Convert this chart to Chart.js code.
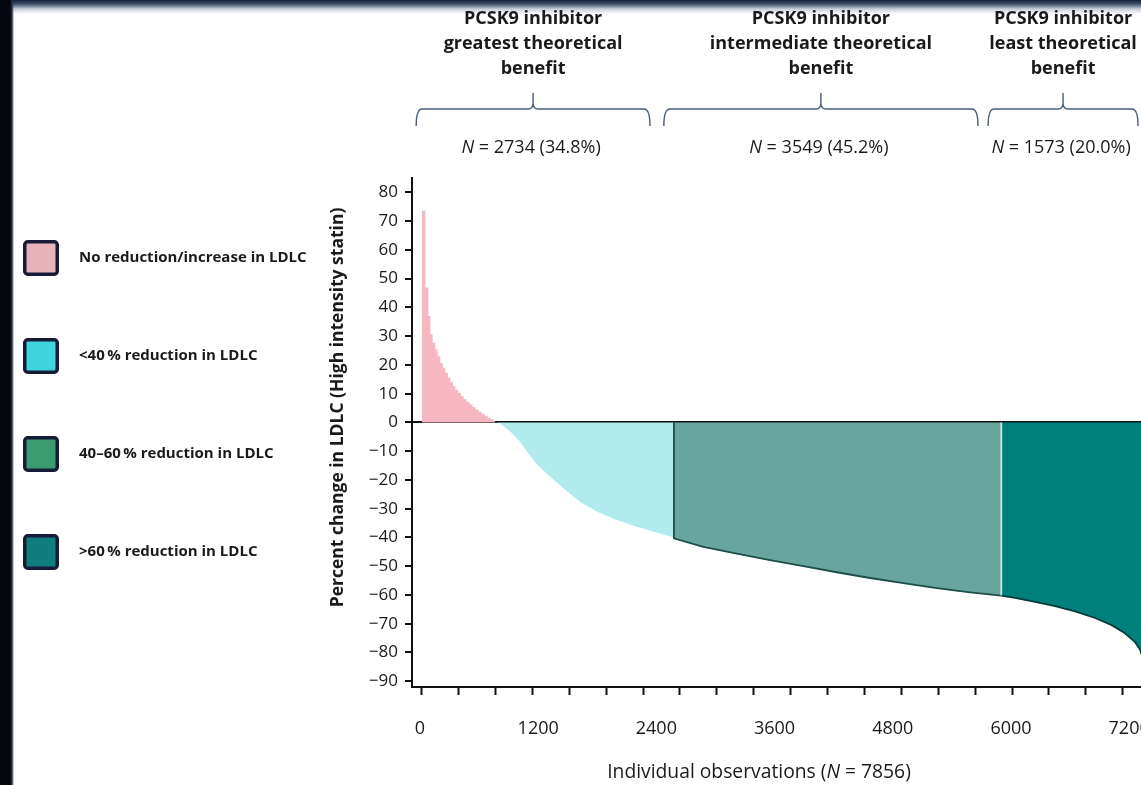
<!DOCTYPE html>
<html><head><meta charset="utf-8">
<script src="https://cdn.jsdelivr.net/npm/chart.js@4.4.1/dist/chart.umd.min.js"></script>
<style>
html,body{margin:0;padding:0;width:1141px;height:785px;overflow:hidden;}
body{background:
 linear-gradient(to right,#04070d 0,#04070d 10px,#2a3140 12px,rgba(255,255,255,0) 14px),
 linear-gradient(to bottom,#14233a 0,#3c4f68 4px,#c6cfda 9px,#ffffff 14px);}
#c{position:absolute;left:0;top:0;}
</style></head><body>
<canvas id="c" width="1200" height="785"></canvas>
<script>
// ---------------- data ----------------
const categories = ['No reduction/increase in LDLC', '<40\u2009% reduction in LDLC', '40\u201360\u2009% reduction in LDLC', '>60\u2009% reduction in LDLC'];

// observation index (sorted) and percent change in LDLC
const pinkObs = [0, 40, 72, 94, 119, 148, 173, 202, 230, 256, 285, 311, 339, 365, 393, 426, 455, 487, 520, 552, 585, 617, 650, 682, 715, 748, 780, 800];
const pinkPct = [73.6, 46.9, 37.0, 30.6, 27.7, 25.4, 23.0, 20.7, 19.0, 17.2, 15.5, 14.0, 12.6, 11.4, 10.3, 9.1, 8.1, 7.1, 6.2, 5.3, 4.5, 3.7, 3.0, 2.3, 1.6, 1.0, 0.4, 0];

const cyanObs = [800, 849, 957, 1066, 1150, 1247, 1391, 1535, 1716, 1897, 2114, 2331, 2547, 2734];
const cyanPct = [0, -0.3, -3.1, -6.7, -10.5, -14.5, -18.8, -22.9, -27.6, -31.0, -33.9, -36.3, -38.3, -40.0];

const tealObs = [2734, 3053, 3415, 3776, 4137, 4499, 4860, 5221, 5583, 5944, 6283];
const tealPct = [-40.3, -43.3, -45.6, -47.9, -50.0, -52.1, -54.1, -55.9, -57.6, -59.1, -60.2];

const darkObs = [6283, 6432, 6649, 6866, 7083, 7300, 7480, 7624, 7733, 7787, 7830, 7856];
const darkPct = [-60.2, -61.0, -62.4, -63.9, -65.7, -68.0, -70.5, -73.3, -76.4, -79.0, -83.0, -88.0];

// benefit groups
const groupTitles = [
  ['PCSK9 inhibitor', 'greatest theoretical', 'benefit'],
  ['PCSK9 inhibitor', 'intermediate theoretical', 'benefit'],
  ['PCSK9 inhibitor', 'least theoretical', 'benefit']
];
const groupCounts = [2734, 3549, 1573];
const bracketFrom = [-60, 2625, 6140];
const bracketTo = [2475, 6030, 7765];

// ticks
const yTicks = [-90, -80, -70, -60, -50, -40, -30, -20, -10, 0, 10, 20, 30, 40, 50, 60, 70, 80];
const xTickMarks = [0, 400, 800, 1200, 1600, 2000, 2400, 2800, 3200, 3600, 4000, 4400, 4800, 5200, 5600, 6000, 6400, 6800, 7200, 7600, 8000];
const xTickLabels = [0, 1200, 2400, 3600, 4800, 6000, 7200];

const yTitle = 'Percent change in LDLC (High intensity statin)';
const xTitleParts = ['Individual observations (', 'N', ' = ', ')'];

// ---------------- styles ----------------
const fillColors = ['#f6b6c2', '#b1ebee', '#67a59e', '#00807c'];
const legendColors = ['#e8b3b8', '#3ed5dd', '#3b9d6f', '#0f7e7c'];
const FONT = "'Open Sans', sans-serif";
Chart.defaults.font.family = FONT;
Chart.defaults.color = '#1a1a1a';

const totalN = groupCounts.reduce((a, b) => a + b, 0);
const PLOT_LEFT = 412;
const LEG_PAD = 83;
const LEG_FONT = 15;
const LEG_BOXW = 61;
const PAD_LEFT = 10.5 - LEG_PAD;
const mctx = document.createElement('canvas').getContext('2d');
mctx.font = 'bold ' + LEG_FONT + 'px ' + FONT;
const maxTextW = Math.max.apply(null, categories.map(t => mctx.measureText(t).width));
const LEGEND_W = LEG_PAD + LEG_BOXW + LEG_FONT / 2 + maxTextW + 4;
const Y_TITLE_SIZE = 17.5;
const yTitlePad = Math.max(0, 338 - (PAD_LEFT + LEGEND_W) - Y_TITLE_SIZE * 0.6);

function pts(xs, ys) { return xs.map((x, i) => ({x: x, y: ys[i]})); }

function swatch(color) {
  const c = document.createElement('canvas');
  c.width = 36; c.height = 36;
  const g = c.getContext('2d');
  g.beginPath();
  if (g.roundRect) g.roundRect(1.75, 1.75, 32.5, 32.5, 3); else g.rect(1.75, 1.75, 32.5, 32.5);
  g.fillStyle = color; g.fill();
  g.lineWidth = 3.5; g.strokeStyle = '#161c38'; g.stroke();
  return c;
}
const swatches = legendColors.map(swatch);

const datasets = [
  { label: categories[0], data: pts(pinkObs, pinkPct), stepped: 'before', fill: 'origin',
    backgroundColor: fillColors[0], borderColor: 'rgba(0,0,0,0)', borderWidth: 0, order: 4 },
  { label: categories[1], data: pts(cyanObs, cyanPct), fill: 'origin',
    backgroundColor: fillColors[1], borderColor: 'rgba(0,0,0,0)', borderWidth: 0, order: 3 },
  { label: categories[2], data: [{x: tealObs[0], y: 0}].concat(pts(tealObs, tealPct)), fill: 'origin',
    backgroundColor: fillColors[2], borderColor: '#1d4d49', borderWidth: 1.8, order: 2 },
  { label: categories[3], data: [{x: darkObs[0], y: 0}].concat(pts(darkObs, darkPct)), fill: 'origin',
    backgroundColor: fillColors[3], borderColor: '#073b39', borderWidth: 1.8, order: 1,
    segment: { borderColor: c => c.p0DataIndex === 0 ? '#cfe6e2' : undefined } }
];
datasets.forEach(d => { d.pointRadius = 0; d.pointHoverRadius = 0; d.tension = 0; });

function drawMixed(ctx, parts, cx, cy, size) {
  let total = 0;
  const widths = parts.map(p => { ctx.font = p[1] + ' ' + size + 'px ' + FONT; const w = ctx.measureText(p[0]).width; total += w; return w; });
  let x = cx - total / 2;
  ctx.textAlign = 'left';
  parts.forEach((p, i) => { ctx.font = p[1] + ' ' + size + 'px ' + FONT; ctx.fillText(p[0], x, cy); x += widths[i]; });
}

const groupAnnotations = {
  id: 'groupAnnotations',
  afterDraw(chart) {
    const ctx = chart.ctx, xs = chart.scales.x;
    ctx.save();
    ctx.textBaseline = 'middle';
    ctx.fillStyle = '#1a1a1a';
    groupTitles.forEach((lines, i) => {
      const x0 = xs.getPixelForValue(bracketFrom[i]);
      const x1 = xs.getPixelForValue(bracketTo[i]);
      const cx = (x0 + x1) / 2;
      ctx.textAlign = 'center';
      ctx.font = 'bold 18px ' + FONT;
      lines.forEach((t, k) => ctx.fillText(t, cx, 19 + 25 * k));
      // curly bracket
      const yT = 109;
      ctx.strokeStyle = '#4a5d7e';
      ctx.lineWidth = 1.4;
      ctx.beginPath();
      ctx.moveTo(x0, yT + 17);
      ctx.quadraticCurveTo(x0, yT, x0 + 6, yT);
      ctx.lineTo(cx - 5, yT);
      ctx.quadraticCurveTo(cx, yT, cx, yT - 6);
      ctx.lineTo(cx, yT - 16);
      ctx.moveTo(x1, yT + 17);
      ctx.quadraticCurveTo(x1, yT, x1 - 6, yT);
      ctx.lineTo(cx + 5, yT);
      ctx.quadraticCurveTo(cx, yT, cx, yT - 6);
      ctx.stroke();
      const pct = (groupCounts[i] / totalN * 100).toFixed(1);
      drawMixed(ctx, [['N', 'italic'], [' = ' + groupCounts[i] + ' (' + pct + '%)', 'normal']], cx - 2, 148, 18);
    });
    drawMixed(ctx, [[xTitleParts[0], 'normal'], [xTitleParts[1], 'italic'], [xTitleParts[2] + totalN + xTitleParts[3], 'normal']], 759, 773, 19.3);
    ctx.restore();
  }
};

new Chart(document.getElementById('c'), {
  type: 'line',
  data: { datasets: datasets },
  options: {
    responsive: false, animation: false, devicePixelRatio: 1,
    layout: { padding: { left: PAD_LEFT, right: 40.3, top: 178, bottom: 40 } },
    plugins: {
      tooltip: { enabled: false },
      legend: {
        position: 'left', align: 'start', fullSize: false, maxWidth: LEGEND_W,
        title: { display: true, text: '', padding: { top: -24.9, bottom: 0 }, font: { size: 12 } },
        labels: {
          usePointStyle: true, pointStyleWidth: LEG_BOXW, padding: LEG_PAD, color: '#1a1a1a',
          font: { size: LEG_FONT, weight: 'bold' },
          generateLabels: chart => categories.map((t, i) => ({
            text: t, fillStyle: legendColors[i], strokeStyle: '#161c38', lineWidth: 3,
            pointStyle: swatches[i], datasetIndex: i, hidden: !chart.isDatasetVisible(i)
          }))
        }
      }
    },
    scales: {
      x: {
        type: 'linear', position: 'bottom', min: -105, max: 8000, weight: 0,
        afterBuildTicks: s => { s.ticks = xTickMarks.map(v => ({value: v})); },
        ticks: { display: false },
        grid: { display: true, drawOnChartArea: false, drawTicks: true, tickLength: 8, tickColor: '#111', tickWidth: 2 },
        border: { display: true, color: '#111', width: 2 }
      },
      xLab: {
        type: 'linear', position: 'bottom', min: -81, max: 7510, weight: 1,
        afterBuildTicks: s => { s.ticks = xTickLabels.map(v => ({value: v})); },
        afterFit: s => { s.height = 50; },
        ticks: { padding: 23, color: '#1a1a1a', font: { size: 18 }, maxRotation: 0, autoSkip: false, callback: v => String(v) },
        grid: { display: false, drawTicks: false },
        border: { display: false }
      },
      y: {
        type: 'linear', min: -92, max: 85, z: 1,
        afterBuildTicks: s => { s.ticks = yTicks.map(v => ({value: v})); },
        afterFit: s => { const lw = s.chart.legend ? s.chart.legend.width : LEGEND_W; s.width = PLOT_LEFT - PAD_LEFT - lw; },
        ticks: { padding: 7, color: '#1a1a1a', font: { size: 17 }, callback: v => v < 0 ? '\u2212' + Math.abs(v) : String(v) },
        grid: { drawOnChartArea: true, drawTicks: true, tickLength: 7, tickColor: '#111', tickWidth: 2, lineWidth: 2,
          color: c => (c.tick && c.tick.value === 0) ? '#111' : 'rgba(0,0,0,0)' },
        border: { display: true, color: '#111', width: 2 },
        title: { display: true, text: ' '.repeat(11) + yTitle, color: '#1a1a1a', font: { size: Y_TITLE_SIZE, weight: 'bold' }, padding: { top: yTitlePad, bottom: 0 } }
      }
    }
  },
  plugins: [groupAnnotations]
});
</script>
</body></html>
